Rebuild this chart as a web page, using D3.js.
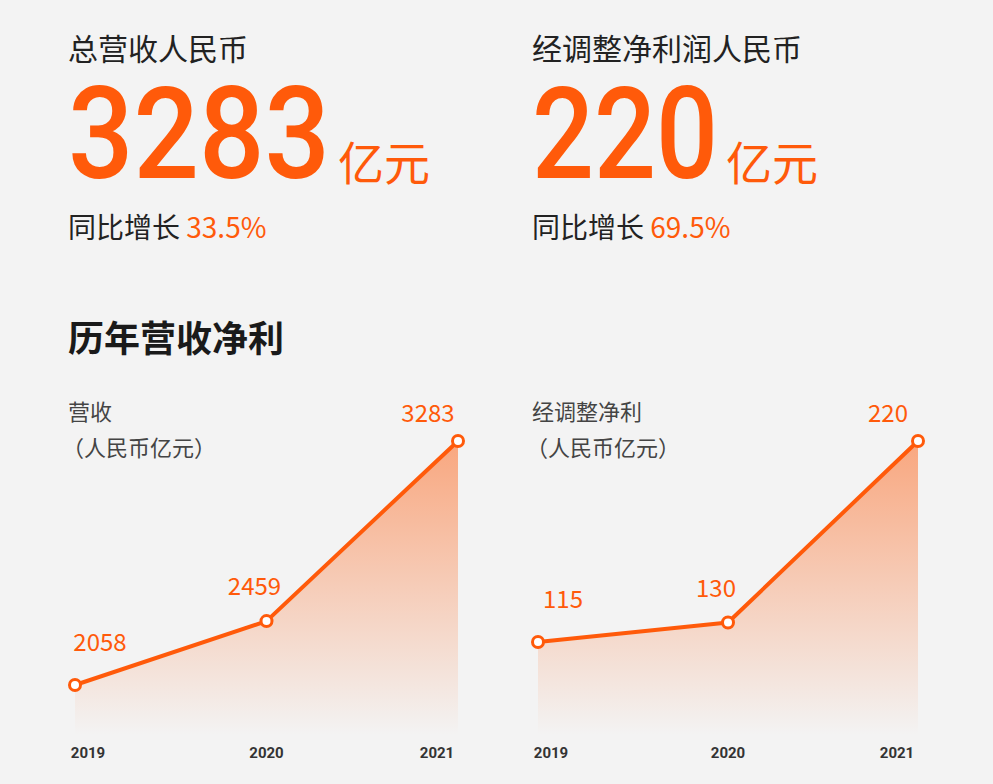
<!DOCTYPE html>
<html><head><meta charset="utf-8">
<script src="https://cdn.jsdelivr.net/npm/d3@7"></script>
<style>body{margin:0;background:#f3f3f3}svg{display:block}</style>
</head><body><svg id="c" width="993" height="784"></svg>
<script>
const years = ["2019","2020","2021"];
const revenue = [2058, 2459, 3283];
const profit = [115, 130, 220];
const headlines = [
  {title:"总营收人民币", value:"3283", unit:"亿元", growth:"33.5%"},
  {title:"经调整净利润人民币", value:"220", unit:"亿元", growth:"69.5%"}
];
const charts = [
  {name:"营收", unit:"（人民币亿元）", values:revenue},
  {name:"经调整净利", unit:"（人民币亿元）", values:profit}
];
const OR = "#ff5a0a", FONT = "'Noto Sans CJK SC','Noto Sans',sans-serif";
const svg = d3.select("#c");
svg.append("rect").attr("width",993).attr("height",784).attr("fill","#f3f3f3");
const defs = svg.append("defs");
const g = defs.append("linearGradient").attr("id","ga").attr("x1",0).attr("x2",0).attr("y1",0).attr("y2",1);
g.append("stop").attr("offset","0%").attr("stop-color",OR).attr("stop-opacity",0.5);
g.append("stop").attr("offset","100%").attr("stop-color",OR).attr("stop-opacity",0);

const offs = [68, 532];
const bigW = [262, 186];
headlines.forEach((h,i)=>{
  const x = offs[i];
  svg.append("text").attr("x",x).attr("y",60).attr("font-family",FONT).attr("font-size",30).attr("fill","#222").text(h.title);
  svg.append("text").attr("x",x).attr("y",178).attr("font-family","Roboto,sans-serif").attr("font-weight",500).attr("font-size",128)
    .attr("textLength",bigW[i]).attr("lengthAdjust","spacingAndGlyphs").attr("fill",OR).text(h.value);
  svg.append("text").attr("x",x+bigW[i]+8).attr("y",180).attr("font-family",FONT).attr("font-size",46).attr("fill",OR).text(h.unit);
  const t = svg.append("text").attr("x",x).attr("y",238).attr("font-family",FONT).attr("font-size",28);
  t.append("tspan").attr("fill","#222").text("同比增长 ");
  t.append("tspan").attr("fill",OR).text(h.growth);
});
svg.append("text").attr("x",68).attr("y",352).attr("font-family",FONT).attr("font-weight","bold").attr("font-size",36).attr("fill","#1a1a1a").text("历年营收净利");

const ranges = [[75,458],[538,918]];
const yRanges = [[685,441],[642,441]];
const labDx = [25,-12,-30], labDy = [-34,-26,-19];
const yrDx = [13,0,-21];
charts.forEach((c,i)=>{
  const x = d3.scalePoint().domain(years).range(ranges[i]);
  const mn = d3.min(c.values), mx = d3.max(c.values);
  const p = d3.scalePow().exponent(1.2).domain([0, mx-mn]).range(yRanges[i]);
  const y = v => p(v-mn);
  const data = years.map((yr,j)=>({yr, v:c.values[j]}));
  const gx = offs[i];
  svg.append("text").attr("x",gx).attr("y",420).attr("font-family",FONT).attr("font-size",22).attr("fill","#444").text(c.name);
  svg.append("text").attr("x",gx-6).attr("y",456).attr("font-family",FONT).attr("font-size",22).attr("fill","#444").text(c.unit);
  svg.append("path").datum(data).attr("fill","url(#ga)")
    .attr("d",d3.area().x(d=>x(d.yr)).y0(735).y1(d=>y(d.v)));
  svg.append("path").datum(data).attr("fill","none").attr("stroke",OR).attr("stroke-width",4).attr("stroke-linejoin","round")
    .attr("d",d3.line().x(d=>x(d.yr)).y(d=>y(d.v)));
  svg.selectAll(null).data(data).enter().append("circle").attr("cx",d=>x(d.yr)).attr("cy",d=>y(d.v)).attr("r",5.5)
    .attr("fill","#fff").attr("stroke",OR).attr("stroke-width",3);
  svg.selectAll(null).data(data).enter().append("text").attr("x",(d,j)=>x(d.yr)+labDx[j]).attr("y",(d,j)=>y(d.v)+labDy[j])
    .attr("text-anchor","middle").attr("font-family",FONT).attr("font-size",24).attr("fill",OR).text(d=>d.v);
  svg.selectAll(null).data(years).enter().append("text").attr("x",(d,j)=>x(d)+yrDx[j]).attr("y",758).attr("text-anchor","middle")
    .attr("font-family","Roboto,sans-serif").attr("font-weight","bold").attr("font-size",15).attr("fill","#333").text(d=>d);
});
</script></body></html>
